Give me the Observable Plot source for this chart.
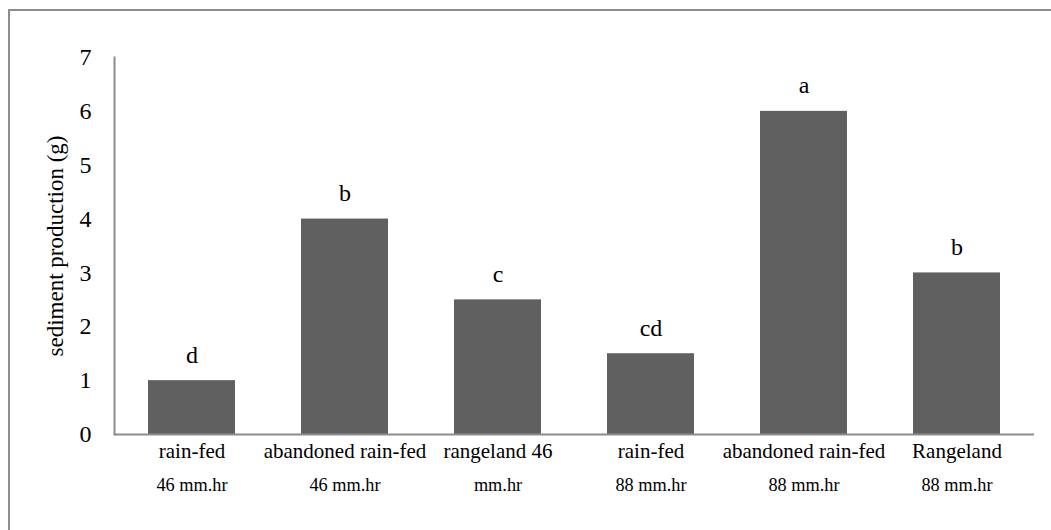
<!DOCTYPE html>
<html>
<head>
<meta charset="utf-8">
<script src="https://cdn.jsdelivr.net/npm/d3@7"></script>
<script src="https://cdn.jsdelivr.net/npm/@observablehq/plot@0.6"></script>
<style>
  html, body { margin: 0; padding: 0; background: #fff; overflow: hidden; }
  #wrap { position: relative; width: 1051px; height: 530px; overflow: hidden; }
  #border { position: absolute; left: 8px; top: 9px; width: 1200px; height: 700px; border: 2px solid #8c8c8c; box-sizing: border-box; pointer-events: none; }
  #chart { position: absolute; left: 0; top: 0; }
  svg text { font-family: "Liberation Serif", "Times New Roman", serif; }
</style>
</head>
<body>
<div id="wrap"><div id="chart"></div><div id="border"></div></div>
<script>
const keys = ["k1", "k2", "k3", "k4", "k5", "k6"];
const line1 = ["rain-fed", "abandoned rain-fed", "rangeland 46", "rain-fed", "abandoned rain-fed", "Rangeland"];
const line2 = ["46 mm.hr", "46 mm.hr", "mm.hr", "88 mm.hr", "88 mm.hr", "88 mm.hr"];
const values = [1, 4, 2.5, 1.5, 6, 3];
const letters = ["d", "b", "c", "cd", "a", "b"];
const yTicks = [0, 1, 2, 3, 4, 5, 6, 7];
const yTitle = "sediment production (g)";

const data = keys.map((k, i) => ({key: k, l1: line1[i], l2: line2[i], value: values[i], letter: letters[i]}));
const serif = "Liberation Serif";

const chart = Plot.plot({
  width: 1051,
  height: 530,
  marginLeft: 114,
  marginRight: 17,
  marginTop: 57,
  marginBottom: 96,
  style: {fontFamily: serif, color: "#000", background: "transparent"},
  x: {domain: keys, paddingInner: 0.433, paddingOuter: 0.215, axis: null},
  y: {domain: [0, 7], axis: null},
  marks: [
    Plot.barY(data, {x: "key", y: "value", fill: "#606060"}),
    Plot.axisY({ticks: yTicks, tickSize: 0, tickPadding: 23, fontSize: 24, label: null, tickFormat: d => String(d), fontFamily: serif}),
    Plot.frame({anchor: "left", stroke: "#8c8c8c", strokeWidth: 2}),
    Plot.ruleY([0], {stroke: "#8c8c8c", strokeWidth: 2}),
    Plot.text(data, {x: "key", y: "value", text: "letter", dy: -18, lineAnchor: "bottom", fontSize: 24, fill: "#000", fontFamily: serif}),
    Plot.text(data, {x: "key", y: () => 0, text: "l1", dy: 23, lineAnchor: "bottom", fontSize: 21, fill: "#000", fontFamily: serif}),
    Plot.text(data, {x: "key", y: () => 0, text: "l2", dy: 56, lineAnchor: "bottom", fontSize: 18.3, fill: "#000", fontFamily: serif}),
    Plot.text([yTitle], {frameAnchor: "left", textAnchor: "middle", dx: -59, rotate: -90, fontSize: 23, fill: "#000", fontFamily: serif, text: d => d})
  ]
});
document.getElementById("chart").appendChild(chart);
</script>
</body>
</html>
